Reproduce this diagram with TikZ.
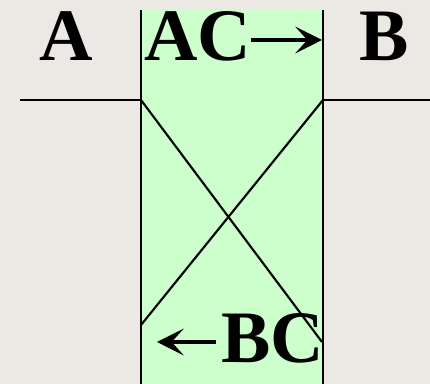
\documentclass[tikz,border=0pt]{standalone}
\usepackage{fontspec}
\setmainfont{Liberation Serif}[BoldFont={Liberation Serif Bold}]
\newfontfamily\lblfont{Liberation Serif Bold}
\usetikzlibrary{arrows.meta}
\definecolor{bgc}{RGB}{236,232,228}
\definecolor{greenfill}{RGB}{204,255,204}
\tikzset{
  lbl/.style={anchor=base, inner sep=0pt, font=\lblfont\fontsize{55.5pt}{60pt}\selectfont},
  wire/.style={line width=1.6pt, black},
  txtarrow/.style={line width=3pt, -{Stealth[length=20pt, width=20pt, inset=9pt]}}
}
\begin{document}
\begin{tikzpicture}[x=0.75pt,y=-0.75pt]
\useasboundingbox (0,0) rectangle (430,384);
\fill[bgc] (0,0) rectangle (430,384);
\fill[greenfill] (141,10) rectangle (323,390);
\coordinate (tl) at (141,100);
\coordinate (tr) at (323,100);
\coordinate (bl) at (141,325);
\coordinate (br) at (322,342);
\coordinate (lend) at (20,100);
\coordinate (rend) at (432,100);
\draw[wire] (141,10) -- (141,390);
\draw[wire] (323,10) -- (323,390);
\draw[wire] (lend) -- (tl);
\draw[wire] (tr) -- (rend);
\draw[wire] (tl) -- (br);
\draw[wire] (tr) -- (bl);
\node[lbl] (A) at (66.5,61) {A};
\node[lbl] (AC) at (198,61) {AC};
\node[lbl] (B) at (384,61) {B};
\node[lbl] (BC) at (272.5,363) {BC};
\coordinate (acend) at (322,40);
\coordinate (bcend) at (157,342);
\draw[txtarrow] (AC.east |- acend) ++(-1,0) -- (acend);
\draw[txtarrow] (BC.west |- bcend) ++(-5,0) -- (bcend);
\end{tikzpicture}
\end{document}
